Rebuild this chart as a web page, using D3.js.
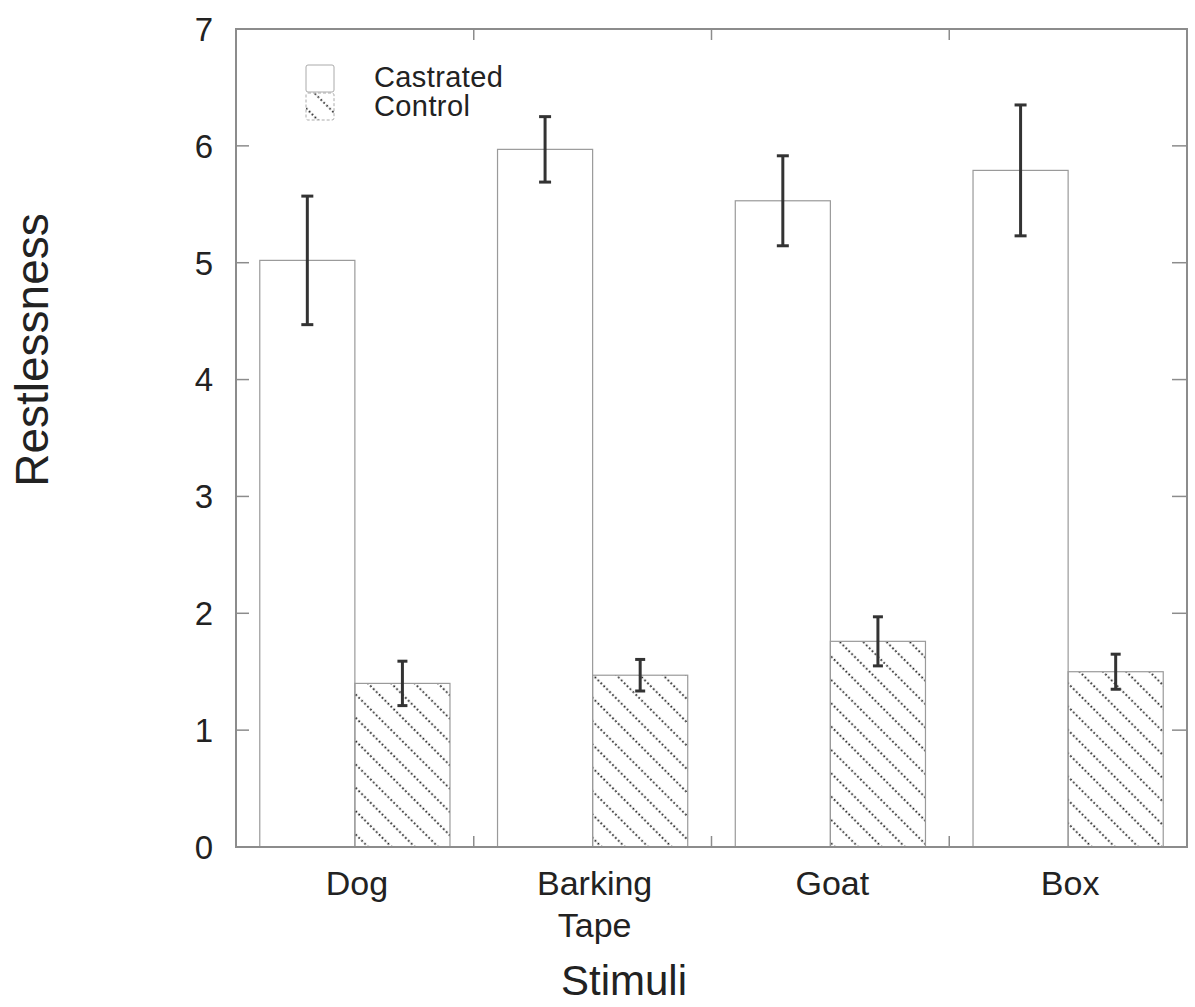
<!DOCTYPE html>
<html>
<head>
<meta charset="utf-8">
<script src="https://cdn.jsdelivr.net/npm/d3@7"></script>
<style>
  html, body { margin: 0; padding: 0; background: #fff; }
  svg { display: block; }
  text { font-family: "Liberation Sans", Arial, sans-serif; fill: #222; }
</style>
</head>
<body>
<svg id="chart" width="1195" height="1007"></svg>
<script>
// Stimulus categories (multi-line labels)
const categories = ["Dog", "Barking Tape", "Goat", "Box"];
const categoryLines = [["Dog"], ["Barking", "Tape"], ["Goat"], ["Box"]];
const groups = ["Castrated", "Control"];

// Mean restlessness and error half-widths
const castrated = [5.02, 5.97, 5.53, 5.79];
const castratedErr = [0.55, 0.28, 0.385, 0.56];
const control = [1.40, 1.47, 1.76, 1.50];
const controlErr = [0.19, 0.135, 0.21, 0.15];

const yTicks = [0, 1, 2, 3, 4, 5, 6, 7];

(function draw() {
const svg = d3.select("#chart");
const plotLeft = 236, plotRight = 1187, plotTop = 29, plotBottom = 847;

const x = d3.scaleBand().domain(categories).range([plotLeft, plotRight]).paddingInner(0).paddingOuter(0);
const sub = d3.scaleBand().domain(groups).range([0, x.bandwidth()]).paddingOuter(0.25).paddingInner(0);
const y = d3.scaleLinear().domain([0, 7]).range([plotBottom, plotTop]);

// Diagonal dotted hatch
const defs = svg.append("defs");
const pat = defs.append("pattern")
  .attr("id", "hatch")
  .attr("patternUnits", "userSpaceOnUse")
  .attr("width", 16.5).attr("height", 16.5)
  .attr("patternTransform", "rotate(-45)");
pat.append("line")
  .attr("x1", 8).attr("y1", 0).attr("x2", 8).attr("y2", 16.5)
  .attr("stroke", "#1a1a1a").attr("stroke-width", 1.8)
  .attr("stroke-dasharray", "1.8 2.3");

const rows = categories.map((c, i) => [
  { cat: c, group: "Castrated", v: castrated[i], e: castratedErr[i] },
  { cat: c, group: "Control", v: control[i], e: controlErr[i] }
]).flat();

// Bars
svg.append("g").selectAll("rect")
  .data(rows).join("rect")
  .attr("x", d => x(d.cat) + sub(d.group))
  .attr("y", d => y(d.v))
  .attr("width", sub.bandwidth())
  .attr("height", d => y(0) - y(d.v))
  .attr("fill", d => d.group === "Control" ? "url(#hatch)" : "#fff")
  .attr("stroke", "#9a9a9a")
  .attr("stroke-width", 1.2);

// Error bars
const eb = svg.append("g").attr("stroke", "#333").attr("stroke-width", 3);
rows.forEach(d => {
  const cx = x(d.cat) + sub(d.group) + sub.bandwidth() / 2;
  const cap = d.group === "Control" ? 5 : 6;
  eb.append("line").attr("x1", cx).attr("x2", cx).attr("y1", y(d.v + d.e)).attr("y2", y(d.v - d.e));
  eb.append("line").attr("x1", cx - cap).attr("x2", cx + cap).attr("y1", y(d.v + d.e)).attr("y2", y(d.v + d.e));
  eb.append("line").attr("x1", cx - cap).attr("x2", cx + cap).attr("y1", y(d.v - d.e)).attr("y2", y(d.v - d.e));
});

// Frame
svg.append("rect")
  .attr("x", plotLeft).attr("y", plotTop)
  .attr("width", plotRight - plotLeft).attr("height", plotBottom - plotTop)
  .attr("fill", "none").attr("stroke", "#8c8c8c").attr("stroke-width", 2);

// Inward ticks on left and right
const tickG = svg.append("g").attr("stroke", "#8c8c8c").attr("stroke-width", 1.5);
yTicks.slice(1, -1).forEach(t => {
  tickG.append("line").attr("x1", plotLeft).attr("x2", plotLeft + 13).attr("y1", y(t)).attr("y2", y(t));
  tickG.append("line").attr("x1", plotRight).attr("x2", plotRight - 15).attr("y1", y(t)).attr("y2", y(t));
});
// Category boundary ticks on top and bottom
categories.slice(1).forEach(c => {
  const bx = x(c);
  tickG.append("line").attr("x1", bx).attr("x2", bx).attr("y1", plotTop).attr("y2", plotTop + 11);
  tickG.append("line").attr("x1", bx).attr("x2", bx).attr("y1", plotBottom).attr("y2", plotBottom - 11);
});

// Y tick labels
svg.append("g").selectAll("text")
  .data(yTicks).join("text")
  .attr("x", 213).attr("y", d => y(d))
  .attr("dy", "0.36em")
  .attr("text-anchor", "end")
  .style("font-size", "33px")
  .text(d => d);

// X tick labels
const xl = svg.append("g");
categories.forEach((c, i) => {
  const cxText = x(c) + x.bandwidth() / 2 + 2;
  const t = xl.append("text")
    .attr("x", cxText)
    .attr("y", 895)
    .attr("text-anchor", "middle")
    .style("font-size", "34px");
  categoryLines[i].forEach((line, j) => {
    t.append("tspan").attr("x", cxText).attr("dy", j === 0 ? 0 : 42).text(line);
  });
});

// Axis titles
svg.append("text")
  .attr("transform", "translate(48,350) rotate(-90)")
  .attr("text-anchor", "middle")
  .style("font-size", "46px")
  .text("Restlessness");
svg.append("text")
  .attr("x", 624).attr("y", 995)
  .attr("text-anchor", "middle")
  .style("font-size", "42px")
  .text("Stimuli");

// Legend
const lg = svg.append("g");
groups.forEach((g, i) => {
  const ly = 65 + i * 28;
  lg.append("rect")
    .attr("x", 306).attr("y", ly)
    .attr("width", 28).attr("height", 27)
    .attr("rx", 2)
    .attr("fill", g === "Control" ? "url(#hatch)" : "#fff")
    .attr("stroke", "#aaa").attr("stroke-width", 1)
    .attr("stroke-dasharray", g === "Control" ? "3 2" : null);
  lg.append("text")
    .attr("x", 374).attr("y", 87 + i * 29)
    .style("font-size", "29px")
    .style("letter-spacing", "0.4px")
    .text(g);
});
})();
</script>
</body>
</html>
